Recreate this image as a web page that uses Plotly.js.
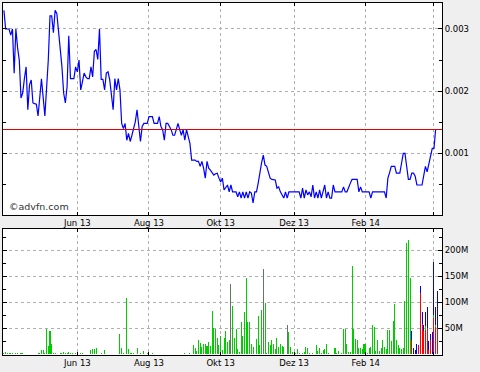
<!DOCTYPE html>
<html><head><meta charset="utf-8">
<script src="https://cdn.plot.ly/plotly-3.0.1.min.js"></script>
<style>html,body{margin:0;padding:0;background:#efefef;}#chart{width:480px;height:372px;}
.shapelayer path{shape-rendering:crispEdges;}
</style>
</head><body><div id="chart"></div>
<script>
// Trading calendar (US market): first session shown and market holidays in the window
const firstDay = '2013-04-02';
const holidays = ['2013-05-27','2013-07-04','2013-09-02','2013-11-28','2013-12-25',
                  '2014-01-01','2014-01-20','2014-02-17'];

// Daily closing price (USD), one value per trading day from 2013-04-02
const price = [
 0.00330,0.00300,0.00300,0.00300,0.00290,0.00300,0.00229,0.00300,0.00270,0.00250,
 0.00189,0.00197,0.00220,0.00239,0.00170,0.00210,0.00218,0.00181,0.00180,0.00179,
 0.00160,0.00186,0.00220,0.00190,0.00160,0.00205,0.00250,0.00321,0.00321,0.00294,
 0.00330,0.00325,0.00295,0.00272,0.00239,0.00197,0.00181,0.00207,0.00289,0.00220,
 0.00220,0.00220,0.00239,0.00231,0.00250,0.00202,0.00215,0.00229,0.00223,0.00220,
 0.00220,0.00239,0.00223,0.00264,0.00267,0.00251,0.00300,0.00219,0.00219,0.00202,
 0.00229,0.00231,0.00218,0.00190,0.00170,0.00220,0.00202,0.00220,0.00202,0.00148,
 0.00140,0.00148,0.00121,0.00132,0.00119,0.00129,0.00138,0.00151,0.00170,0.00138,
 0.00119,0.00143,0.00148,0.00148,0.00148,0.00159,0.00159,0.00159,0.00148,0.00148,
 0.00148,0.00159,0.00143,0.00138,0.00121,0.00148,0.00148,0.00143,0.00138,0.00129,
 0.00129,0.00138,0.00148,0.00138,0.00129,0.00138,0.00121,0.00138,0.00129,0.00116,
 0.00089,0.00089,0.00089,0.00087,0.00087,0.00079,0.00087,0.00076,0.00060,0.00087,
 0.00076,0.00073,0.00069,0.00065,0.00067,0.00068,0.00060,0.00054,0.00060,0.00041,
 0.00045,0.00049,0.00038,0.00049,0.00038,0.00038,0.00038,0.00030,0.00038,0.00028,
 0.00038,0.00028,0.00038,0.00028,0.00038,0.00036,0.00020,0.00038,0.00038,0.00052,
 0.00070,0.00085,0.00097,0.00081,0.00079,0.00070,0.00060,0.00058,0.00057,0.00057,
 0.00044,0.00046,0.00038,0.00033,0.00028,0.00038,0.00028,0.00038,0.00038,0.00038,
 0.00038,0.00038,0.00038,0.00038,0.00028,0.00044,0.00028,0.00041,0.00033,0.00038,
 0.00030,0.00049,0.00028,0.00038,0.00028,0.00041,0.00028,0.00038,0.00049,0.00028,
 0.00038,0.00028,0.00028,0.00049,0.00038,0.00038,0.00038,0.00038,0.00038,0.00046,
 0.00038,0.00038,0.00046,0.00052,0.00058,0.00058,0.00058,0.00058,0.00038,0.00046,
 0.00038,0.00038,0.00038,0.00038,0.00038,0.00028,0.00038,0.00038,0.00038,0.00038,
 0.00038,0.00038,0.00038,0.00038,0.00028,0.00060,0.00069,0.00079,0.00079,0.00079,
 0.00068,0.00068,0.00068,0.00084,0.00100,0.00100,0.00079,0.00058,0.00058,0.00068,
 0.00068,0.00063,0.00049,0.00049,0.00049,0.00049,0.00064,0.00079,0.00070,0.00084,
 0.00095,0.00108,0.00108,0.00139
];

// Daily volume (millions of shares), one value per trading day from 2013-04-02
const volume = [
 3,4,3,2,2,2,0,2,3,0,
 2,2,0,0,0,1,1,1,0,0,
 3,3,8,9,3,48,15,44,19,2,
 2,0,0,3,3,4,3,3,5,3,
 2,0,2,0,0,3,3,0,0,0,
 0,9,10,10,12,0,0,2,0,8,
 0,0,0,0,0,0,0,0,38,12,
 3,0,108,10,3,3,2,0,12,0,
 3,0,6,0,3,0,0,2,0,0,
 0,1,0,0,0,0,0,1,0,0,
 0,0,0,0,0,0,2,0,0,3,
 0,17,12,6,27,21,14,19,19,15,
 23,15,83,51,49,32,17,35,8,32,
 44,23,28,135,92,32,49,10,5,62,
 35,81,147,62,62,19,13,0,29,73,
 17,85,163,98,3,23,17,27,19,10,
 31,13,19,15,13,0,56,42,14,4,
 0,3,10,3,0,3,4,13,12,2,
 0,2,0,17,6,11,2,8,10,19,
 2,0,0,0,12,3,6,0,2,48,
 48,19,4,4,169,48,30,27,12,12,
 10,19,19,3,12,13,57,53,6,27,
 6,12,27,13,10,46,46,26,64,96,
 27,17,12,10,12,102,214,219,146,44,
 12,8,19,17,131,82,56,82,90,26,
 38,43,177,90,122
];
// Split of the last sessions (millions): sell-side (red) and unclassified (blue)
const splitStart = '2014-03-13';
const volRedTail  = [27,0,0,0,17,117,58,45,47,50,8,27,0,69,53,51];
const volBlueTail = [17,12,8,19,0,14,24,11,28,40,18,11,43,101,34,71];
// Sessions drawn in grey
const flatDays = ['2013-10-09','2013-11-05','2013-11-25'];

const xTickDates  = ['2013-06-03','2013-08-01','2013-10-01','2013-12-02','2014-02-03','2014-04-01'];
const xTickLabels = ['Jun 13','Aug 13','Okt 13','Dez 13','Feb 14',''];
const yPriceTicks = [0.001,0.002,0.003];
const yVolTicks = [50,100,150,200];
const yVolLabels = ['50M','100M','150M','200M'];

function tradingDays(start, n, skip) {
  const out = []; const d = new Date(start + 'T00:00:00Z');
  while (out.length < n) {
    const s = d.toISOString().slice(0,10); const wd = d.getUTCDay();
    if (wd !== 0 && wd !== 6 && skip.indexOf(s) < 0) out.push(s);
    d.setUTCDate(d.getUTCDate() + 1);
  }
  return out;
}
const days = tradingDays(firstDay, volume.length, holidays);
const s0 = days.indexOf(splitStart);
const volRed = days.map((d,i) => (i >= s0 && i - s0 < volRedTail.length) ? volRedTail[i - s0] : 0);
const volBlue = days.map((d,i) => (i >= s0 && i - s0 < volBlueTail.length) ? volBlueTail[i - s0] : 0);
const isFlat = days.map(d => flatDays.indexOf(d) >= 0);
const volGreen = volume.map((v,i) => isFlat[i] ? 0 : v - volRed[i] - volBlue[i]);
const volGrey = volume.map((v,i) => isFlat[i] ? v : 0);

const barW = 0.6 * 86400000;
const FONT = {family: 'DejaVu Sans', size: 8.5, color: '#000'};
const rb = [{bounds: ['sat','mon']}, {values: holidays}];
const xRange = ['2013-04-01 11:00', '2014-04-07 17:00'];

const traces = [
  {x: days.slice(0, price.length), y: price, type: 'scatter', mode: 'lines',
   line: {color: '#0000ff', width: 1.2}, xaxis: 'x', yaxis: 'y', hoverinfo: 'skip'},
  {x: days, y: volRed, type: 'bar', width: barW, marker: {color: '#ff0000'}, xaxis: 'x2', yaxis: 'y2'},
  {x: days, y: volGreen, type: 'bar', width: barW, marker: {color: '#00cc00'}, xaxis: 'x2', yaxis: 'y2'},
  {x: days, y: volGrey, type: 'bar', width: barW, marker: {color: '#5f7a5f'}, xaxis: 'x2', yaxis: 'y2'},
  {x: days, y: volBlue, type: 'bar', width: barW, marker: {color: '#0000ff'}, xaxis: 'x2', yaxis: 'y2'}
];

const xCommon = {
  type: 'date', rangebreaks: rb, range: xRange, tickmode: 'array',
  tickvals: xTickDates, ticktext: xTickLabels, showgrid: true, gridcolor: '#b0b0b0',
  griddash: 'dot', gridwidth: 1, ticks: 'inside', ticklen: 3, tickcolor: '#000',
  showline: true, linecolor: '#000', linewidth: 1, mirror: 'ticks', tickfont: FONT,
  zeroline: false, fixedrange: true
};
const yCommon = {
  side: 'right', showgrid: true, gridcolor: '#b0b0b0', griddash: 'dot', gridwidth: 1,
  ticks: 'inside', ticklen: 4, tickcolor: '#000', showline: true, linecolor: '#000',
  linewidth: 1, mirror: 'ticks', tickfont: FONT, zeroline: false, fixedrange: true
};

const layout = {
  width: 480, height: 372, margin: {l: 3, r: 38, t: 3, b: 17},
  paper_bgcolor: '#efefef', plot_bgcolor: '#ffffff', showlegend: false,
  barmode: 'stack', bargap: 0,
  xaxis: Object.assign({}, xCommon, {anchor: 'y'}),
  xaxis2: Object.assign({}, xCommon, {anchor: 'y2', matches: 'x'}),
  yaxis: Object.assign({}, yCommon, {domain: [0.3977, 1], anchor: 'x',
    range: [0.000007, 0.003418], tickmode: 'array', tickvals: yPriceTicks,
    ticktext: yPriceTicks.map(v => v.toFixed(3)),
    minor: {dtick: 0.0005, tick0: 0, ticks: 'inside', ticklen: 3, tickcolor: '#000'}}),
  yaxis2: Object.assign({}, yCommon, {domain: [0, 0.358], anchor: 'x2',
    range: [-1.5, 240.5], tickmode: 'array', tickvals: yVolTicks, ticktext: yVolLabels,
    minor: {dtick: 25, tick0: 0, ticks: 'inside', ticklen: 3, tickcolor: '#000'}}),
  shapes: [{type: 'line', xref: 'x domain', x0: 0, x1: 1, yref: 'y',
    y0: price[price.length - 1], y1: price[price.length - 1],
    line: {color: '#dd0000', width: 1}}],
  annotations: [{text: '©advfn.com', xref: 'x domain', yref: 'y domain', x: 0.008, y: 0.038,
    xanchor: 'left', yanchor: 'middle', showarrow: false,
    font: {family: 'DejaVu Sans', size: 9.5, color: '#333'}}]
};

Plotly.newPlot('chart', traces, layout, {staticPlot: true, displayModeBar: false});
</script></body></html>
